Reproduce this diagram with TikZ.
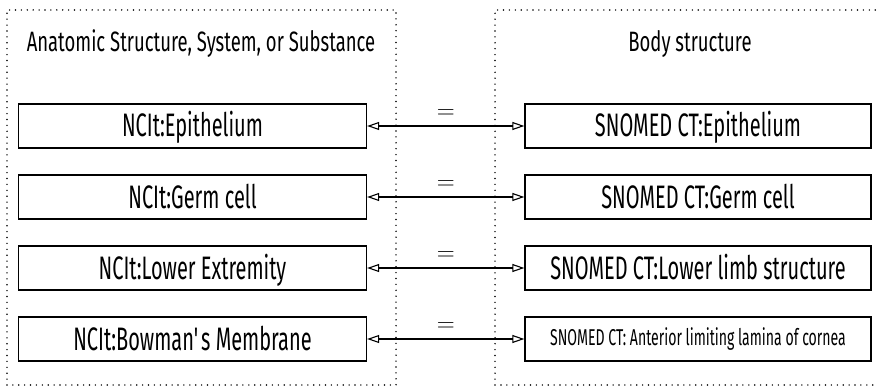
\documentclass[tikz,border=0pt]{standalone}
\usepackage{fontspec}
\setmainfont{Fira Sans}[FakeStretch=0.615]
\newfontfamily\titlefont{Fira Sans}[FakeStretch=0.66]
\usetikzlibrary{arrows.meta}
\tikzset{
  x=1pt,y=1pt,
  dotbox/.style={line width=1.6pt, dash pattern=on 0pt off 5.9pt, line cap=round},
  term/.style={draw, line width=1.3pt, minimum height=44pt, inner sep=0pt,
    font=\fontsize{32.5}{36}\selectfont, text height=23pt, text depth=1pt},
  lterm/.style={term, minimum width=348pt},
  rterm/.style={term, minimum width=346pt},
  small/.style={font=\fontsize{22.9}{26}\selectfont, text height=13pt, text depth=0pt},
  eqlink/.style={line width=1.1pt, {Triangle[open,length=12pt,width=8pt,line width=1.1pt]}-{Triangle[open,length=12pt,width=8pt,line width=1.1pt]}},
  eqlabel/.style={font=\fontsize{26}{30}\selectfont, inner sep=0pt},
  title/.style={font=\titlefont\fontsize{28}{32}\selectfont, inner sep=0pt, anchor=base}
}
\begin{document}
\begin{tikzpicture}
\useasboundingbox (0,0) rectangle (877,386);
\begin{scope}
\clip (0,0) rectangle (877,386);
\draw[dotbox] (7,1) rectangle (396,376);
\draw[dotbox] (495,1) rectangle (890,376);
\end{scope}
\node[title] (lt) at (201,334) {Anatomic Structure, System, or Substance};
\node[title] (rt) at (690,334) {Body structure};

\node[lterm] (l1) at (192.5,260) {NCIt:Epithelium};
\node[lterm] (l2) at (192.5,189) {NCIt:Germ cell};
\node[lterm] (l3) at (192.5,118) {NCIt:Lower Extremity};
\node[lterm] (l4) at (192.5,47) {NCIt:Bowman\textquotesingle s Membrane};

\node[rterm] (r1) at (698,260) {SNOMED CT:Epithelium};
\node[rterm] (r2) at (698,189) {SNOMED CT:Germ cell};
\node[rterm] (r3) at (698,118) {SNOMED CT:Lower limb structure};
\node[rterm, small] (r4) at (698,47) {SNOMED CT: Anterior limiting lamina of cornea};

\foreach \i in {1,2,3,4}{
  \draw[eqlink] (l\i) -- (r\i) node[midway, above=7pt, eqlabel] (e\i) {$=$};
}
\end{tikzpicture}
\end{document}
